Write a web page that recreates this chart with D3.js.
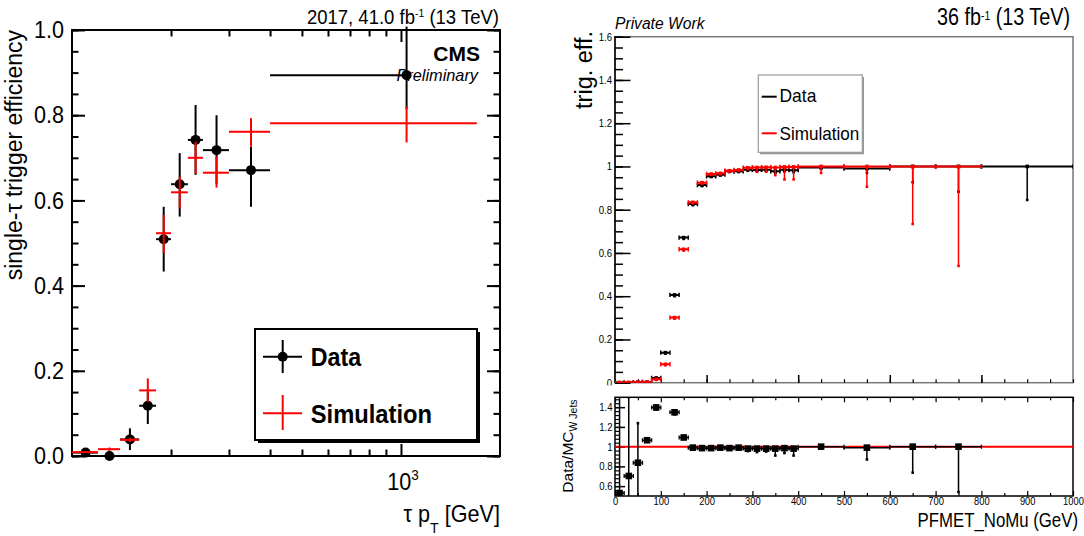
<!DOCTYPE html>
<html><head><meta charset="utf-8">
<script src="https://cdn.jsdelivr.net/npm/d3@7"></script>
<style>body{margin:0;background:#fff}svg{display:block}</style>
</head><body><svg id="c" width="1084" height="536"></svg>
<script>
// ================= LEFT PANEL DATA (single-tau trigger efficiency) =================
const tauBinLo  = [100,120,140,160,180,200,225,250,300,400];
const tauBinHi  = [120,140,160,180,200,225,250,300,400,1700];
const tauX      = [110,130,150,170,190,212.5,237.5,275,350,1040];
const dataXHi   = [120,140,160,180,200,225,250,300,400,1040];
const dataEff   = [0.008,0.000,0.039,0.118,0.509,0.638,0.742,0.718,0.671,0.894];
const dataErrLo = [0.006,0.000,0.025,0.043,0.076,0.076,0.082,0.080,0.086,0.080];
const dataErrHi = [0.006,0.005,0.026,0.033,0.076,0.073,0.082,0.082,0.055,0.114];
const simEff    = [0.009,0.016,0.038,0.154,0.523,0.619,0.700,0.665,0.761,0.781];
const simErrLo  = [0.002,0.004,0.005,0.027,0.047,0.038,0.038,0.035,0.035,0.045];
const simErrHi  = [0.002,0.004,0.005,0.028,0.043,0.037,0.038,0.038,0.032,0.039];
const tauYTicks = [0,0.2,0.4,0.6,0.8,1.0];
const tauXMinor = [200,300,400,500,600,700,800,900];
const tauXMajor = [1000];

// ================= RIGHT PANEL DATA (MET trigger efficiency) =================
const metBinLo = [0,20,40,60,80,100,120,140,160,180,200,220,240,260,280,300,320,340,360,380,400,500,600,700,800];
const metBinHi = [20,40,60,80,100,120,140,160,180,200,220,240,260,280,300,320,340,360,380,400,500,600,700,800,1000];
const dataTrig = [0.0005,0.0005,0.002,0.003,0.022,0.139,0.406,0.671,0.826,0.914,0.955,0.962,0.978,0.978,0.985,0.984,0.985,0.978,0.985,0.983,0.995,0.990,1.0,1.0,1.0];
const dataTrigErr = [0.001,0.001,0.001,0.001,0.003,0.005,0.006,0.006,0.005,0.005,0.004,0.004,0.004,0.004,0.005,0.006,0.007,0.008,0.008,0.010,0.006,0.020,0.073,0.117,0.155];
const mcTrig   = [0.0005,0.0005,0.002,0.003,0.016,0.085,0.301,0.617,0.834,0.925,0.965,0.968,0.980,0.984,0.994,0.995,0.996,0.995,0.998,0.998,1.0,1.0,1.0,1.0,null];
const mcTrigErr= [0.001,0.001,0.001,0.001,0.003,0.004,0.005,0.006,0.005,0.004,0.004,0.004,0.004,0.005,0.006,0.020,0.020,0.035,0.058,0.058,0.030,0.094,0.266,0.460,null];

const ratioBinLo = [0,20,40,60,80,120,140,160,180,200,220,240,260,280,300,320,340,360,380,400,500,600,700];
const ratioBinHi = [20,40,60,80,100,140,160,180,200,220,240,260,280,300,320,340,360,380,400,500,600,700,800];
const ratio      = [0.53,0.703,0.837,1.065,1.397,1.348,1.093,0.99,0.985,0.985,0.99,0.985,0.99,0.98,0.98,0.98,0.98,0.985,0.98,1.0,0.99,1.0,1.0];
const ratioErrLo = [0.6,0.6,0.42,0.015,0.02,0.02,0.015,0.01,0.01,0.01,0.01,0.01,0.01,0.025,0.035,0.03,0.07,0.05,0.07,0.01,0.12,0.263,0.46];
const ratioErrHi = [1.5,0.8,0.401,0.015,0.02,0.02,0.015,0.01,0.01,0.01,0.01,0.01,0.01,0.01,0.01,0.01,0.01,0.01,0.01,0.01,0.01,0.0,0.0];
const effTicks   = [0,0.2,0.4,0.6,0.8,1.0,1.2,1.4,1.6];
const ratioTicks = [0.6,0.8,1.0,1.2,1.4];
const metLabels  = [0,100,200,300,400,500,600,700,800,900,1000];

// ================= helpers =================
const F = '"Liberation Sans", Arial, Helvetica, sans-serif';
const svg = d3.select("#c");
svg.append("rect").attr("width",1084).attr("height",536).attr("fill","#fff");

function txt(g, x, y, size, o = {}) {
  return g.append("text")
    .attr("transform", `translate(${x},${y})` + (o.rot ? ` rotate(${o.rot})` : "") + ` scale(${o.sx || 1},1)`)
    .attr("font-family", F).attr("font-size", size)
    .attr("text-anchor", o.anchor || "start")
    .attr("font-weight", o.weight || "normal")
    .attr("font-style", o.style || "normal")
    .attr("fill", o.fill || "#000");
}
function addAxis(g, gen, tx, ty, o) {
  const ax = gen.tickValues(o.vals).tickSize(o.size).tickPadding(o.pad ?? 3).tickFormat(o.fmt || (() => ""));
  const a = g.append("g").attr("transform", `translate(${tx},${ty})`).call(ax);
  a.select(".domain").remove();
  a.selectAll(".tick line").attr("stroke", o.color || "#000").attr("stroke-width", o.sw || 1);
  a.selectAll("text").attr("font-size", o.font || 11).attr("font-family", F).attr("fill", "#000");
  const sx = o.sx || 1;
  if (sx !== 1) a.selectAll("text").each(function () {
    const t = d3.select(this); const x = +t.attr("x") || 0;
    t.attr("x", x / sx).attr("transform", `scale(${sx},1)`);
  });
  return a;
}
function line(g, x1, y1, x2, y2, color, w) {
  g.append("line").attr("x1", x1).attr("y1", y1).attr("x2", x2).attr("y2", y2)
    .attr("stroke", color).attr("stroke-width", w);
}

// ================= LEFT PANEL =================
const xL = d3.scaleLog().domain([100, 2000]).range([72, 500]);
const yL = d3.scaleLinear().domain([0, 1]).range([456, 30]);
const gL = svg.append("g");

addAxis(gL, d3.axisLeft(yL), 72, 0, {vals: d3.range(0, 1.0001, 0.05), size: -6.5, sw: 2});
addAxis(gL, d3.axisRight(yL), 500, 0, {vals: d3.range(0, 1.0001, 0.05), size: -6.5, sw: 2});
addAxis(gL, d3.axisLeft(yL), 72, 0, {vals: tauYTicks, size: -13, sw: 2, pad: 8, font: 24, sx: 0.9, fmt: d3.format(".1f")});
addAxis(gL, d3.axisRight(yL), 500, 0, {vals: tauYTicks, size: -13, sw: 2});
addAxis(gL, d3.axisBottom(xL), 0, 456, {vals: tauXMinor, size: -6.5, sw: 2});
addAxis(gL, d3.axisBottom(xL), 0, 456, {vals: tauXMajor, size: -12, sw: 2});
addAxis(gL, d3.axisTop(xL), 0, 30, {vals: tauXMinor, size: -6.5, sw: 2});
addAxis(gL, d3.axisTop(xL), 0, 30, {vals: tauXMajor, size: -12, sw: 2});
gL.append("rect").attr("x", 72).attr("y", 30).attr("width", 428).attr("height", 426)
  .attr("fill", "none").attr("stroke", "#000").attr("stroke-width", 2);

// 10^3 label
{
  const t = txt(gL, xL(1000) + 2, 490, 24, {anchor: "middle", sx: 0.9});
  t.append("tspan").text("10");
  t.append("tspan").attr("font-size", 15).attr("dy", -10).text("3");
}
// axis titles
{
  const t = txt(gL, 500, 521.5, 23, {anchor: "end", sx: 0.94});
  t.append("tspan").text("τ p");
  t.append("tspan").attr("font-size", 15).attr("dy", 11).text("T");
  t.append("tspan").attr("dy", -11).text(" [GeV]");
}
txt(gL, 22, 30, 23, {rot: -90, anchor: "end"}).text("single-τ trigger efficiency");
{
  const t = txt(gL, 499, 24, 19.5, {anchor: "end", sx: 0.95});
  t.append("tspan").text("2017, 41.0 fb");
  t.append("tspan").attr("font-size", 11).attr("dy", -7).text("-1");
  t.append("tspan").attr("dy", 7).text(" (13 TeV)");
}
txt(gL, 480, 61, 21, {anchor: "end", weight: "bold"}).text("CMS");
txt(gL, 478, 81, 17, {anchor: "end", style: "italic", sx: 0.96}).text("Preliminary");

// data error bars
tauX.forEach((x, i) => {
  const y = dataEff[i];
  line(gL, xL(tauBinLo[i]), yL(y), xL(dataXHi[i]), yL(y), "#000", 2);
  if (dataErrLo[i] + dataErrHi[i] > 0) line(gL, xL(x), yL(y - dataErrLo[i]), xL(x), yL(y + dataErrHi[i]), "#000", 2);
});
gL.selectAll("circle.dat").data(tauX).join("circle").attr("class", "dat")
  .attr("cx", d => xL(d)).attr("cy", (d, i) => yL(dataEff[i])).attr("r", 5).attr("fill", "#000");
// simulation crosses
tauX.forEach((x, i) => {
  const y = simEff[i];
  line(gL, xL(tauBinLo[i]), yL(y), xL(tauBinHi[i]), yL(y), "#ff0000", 2);
  line(gL, xL(x), yL(y - simErrLo[i]), xL(x), yL(y + simErrHi[i]), "#ff0000", 2);
});

// legend
{
  const lg = gL.append("g");
  lg.append("rect").attr("x", 258).attr("y", 332).attr("width", 222).attr("height", 111).attr("fill", "#000");
  lg.append("rect").attr("x", 255).attr("y", 329).attr("width", 222).attr("height", 111)
    .attr("fill", "#fff").attr("stroke", "#000").attr("stroke-width", 2);
  line(lg, 263, 356.7, 302, 356.7, "#000", 2);
  line(lg, 282.7, 340, 282.7, 373, "#000", 2);
  lg.append("circle").attr("cx", 282.7).attr("cy", 356.7).attr("r", 5).attr("fill", "#000");
  txt(lg, 310.7, 366, 25, {weight: "bold", sx: 0.93}).text("Data");
  line(lg, 263, 413.3, 302, 413.3, "#ff0000", 2);
  line(lg, 282.7, 395, 282.7, 430, "#ff0000", 2);
  txt(lg, 310.7, 422.7, 25, {weight: "bold", sx: 0.95}).text("Simulation");
}

// ================= RIGHT PANEL =================
const xR = d3.scaleLinear().domain([0, 1000]).range([615, 1073]);
const yU = d3.scaleLinear().domain([0, 1.6]).range([382.7, 36.7]);
const yR = d3.scaleLinear().domain([0.5, 1.5]).range([496, 397.3]);
const gR = svg.append("g");
const defs = svg.append("defs");
defs.append("clipPath").attr("id", "clipU").append("rect").attr("x", 615).attr("y", 36.7).attr("width", 458).attr("height", 346);
defs.append("clipPath").attr("id", "clipR").append("rect").attr("x", 615).attr("y", 397.3).attr("width", 458).attr("height", 98.7);

// upper frame
gR.append("rect").attr("x", 615).attr("y", 36.7).attr("width", 458).attr("height", 346)
  .attr("fill", "none").attr("stroke", "#777").attr("stroke-width", 1.5);
line(gR, 615, 36, 615, 383, "#000", 1.5);
addAxis(gR, d3.axisLeft(yU), 615, 0, {vals: d3.range(0, 1.6001, 0.05), size: -8, sw: 1.5});
addAxis(gR, d3.axisLeft(yU), 615, 0, {vals: effTicks, size: -15.5, sw: 1.5, pad: 3, font: 11, sx: 0.87,
  fmt: d => String(+d.toFixed(1))});
addAxis(gR, d3.axisBottom(xR), 0, 382.7, {vals: d3.range(0, 1000.1, 50), size: -3.5, sw: 1.2});
addAxis(gR, d3.axisBottom(xR), 0, 382.7, {vals: [200, 400, 600, 800], size: -7.7, sw: 1.5});

// upper points
function drawUpper(g, vals, errs, color) {
  vals.forEach((y, i) => {
    if (y === null) return;
    const x0 = xR(metBinLo[i]), x1 = xR(metBinHi[i]), xc = (x0 + x1) / 2, py = yU(y);
    line(g, x0, py, x1, py, color, 2);
    line(g, x0, py - 2.2, x0, py + 2.2, color, 1.5);
    line(g, x1, py - 2.2, x1, py + 2.2, color, 1.5);
    const lo = y - errs[i], hi = Math.min(1, y + errs[i]);
    line(g, xc, yU(lo), xc, yU(hi), color, 1.5);
    g.append("rect").attr("x", xc - 1.3).attr("y", yU(lo) - 1.3).attr("width", 2.6).attr("height", 2.6).attr("fill", color);
    g.append("rect").attr("x", xc - 1.8).attr("y", py - 1.8).attr("width", 3.6).attr("height", 3.6).attr("fill", color);
  });
}
const gUp = gR.append("g").attr("clip-path", "url(#clipU)");
drawUpper(gUp, dataTrig, dataTrigErr, "#000");
drawUpper(gUp, mcTrig, mcTrigErr, "#ff0000");

// texts upper
txt(gR, 592, 31, 23.5, {rot: -90, anchor: "end"}).text("trig. eff.");
txt(gR, 615, 29, 17, {style: "italic", sx: 0.92}).text("Private Work");
{
  const t = txt(gR, 1070, 25, 23, {anchor: "end", sx: 0.86});
  t.append("tspan").text("36 fb");
  t.append("tspan").attr("font-size", 12).attr("dy", -5).text("-1");
  t.append("tspan").attr("dy", 5).text(" (13 TeV)");
}
// legend right
{
  const lg = gR.append("g");
  lg.append("rect").attr("x", 760).attr("y", 77).attr("width", 104).attr("height", 77.3).attr("fill", "#999");
  lg.append("rect").attr("x", 758.3).attr("y", 75).attr("width", 104).attr("height", 77.3)
    .attr("fill", "#fff").attr("stroke", "#999").attr("stroke-width", 1.2);
  line(lg, 761.7, 96.7, 776.7, 96.7, "#000", 2);
  txt(lg, 779.5, 102.3, 18, {sx: 0.97}).text("Data");
  line(lg, 761.7, 133.3, 776.7, 133.3, "#ff0000", 2);
  txt(lg, 779.5, 140, 18, {sx: 0.95}).text("Simulation");
}

// lower pad background
gR.append("rect").attr("x", 560).attr("y", 385.5).attr("width", 524).attr("height", 150.5).attr("fill", "#fff");

// lower frame & axes
addAxis(gR, d3.axisLeft(yR), 615, 0, {vals: d3.range(0.52, 1.5, 0.04), size: -5, sw: 1.2});
addAxis(gR, d3.axisLeft(yR), 615, 0, {vals: ratioTicks, size: -10, sw: 1.5, pad: 2.5, font: 11, sx: 0.87,
  fmt: d => String(+d.toFixed(1))});
addAxis(gR, d3.axisBottom(xR), 0, 496, {vals: d3.range(50, 1000, 100), size: -3, sw: 1.2});
addAxis(gR, d3.axisBottom(xR), 0, 496, {vals: metLabels, size: -5, sw: 1.2, pad: 1, font: 11, sx: 0.85, fmt: d => String(d)});
addAxis(gR, d3.axisTop(xR), 0, 397.3, {vals: d3.range(50, 1000, 100), size: -3, sw: 1.2});
addAxis(gR, d3.axisTop(xR), 0, 397.3, {vals: metLabels, size: -5, sw: 1.2});
gR.append("rect").attr("x", 615).attr("y", 397.3).attr("width", 458).attr("height", 98.7)
  .attr("fill", "none").attr("stroke", "#000").attr("stroke-width", 1.5);

// ratio line and points
const gLo = gR.append("g").attr("clip-path", "url(#clipR)");
line(gLo, xR(0), yR(1), xR(1000), yR(1), "#ff0000", 2);
ratio.forEach((r, i) => {
  const x0 = xR(ratioBinLo[i]), x1 = xR(ratioBinHi[i]), xc = (x0 + x1) / 2, py = yR(r);
  line(gLo, x0, py, x1, py, "#000", 1.5);
  line(gLo, x0, py - 2, x0, py + 2, "#000", 1.3);
  line(gLo, x1, py - 2, x1, py + 2, "#000", 1.3);
  const lo = r - ratioErrLo[i], hi = r + ratioErrHi[i];
  line(gLo, xc, yR(lo), xc, yR(hi), "#000", 1.5);
  gLo.append("rect").attr("x", xc - 1.3).attr("y", yR(lo) - 1.3).attr("width", 2.6).attr("height", 2.6).attr("fill", "#000");
  gLo.append("rect").attr("x", xc - 1.3).attr("y", yR(hi) - 1.3).attr("width", 2.6).attr("height", 2.6).attr("fill", "#000");
  gLo.append("rect").attr("x", xc - 3.3).attr("y", py - 3.3).attr("width", 6.6).attr("height", 6.6).attr("fill", "#000");
});

// lower titles
{
  const t = txt(gR, 573, 446, 15.5, {rot: -90, anchor: "middle"});
  t.append("tspan").text("Data/MC");
  t.append("tspan").attr("font-size", 10.5).attr("dy", 4).text("W Jets");
}
txt(gR, 1078, 526.7, 21, {anchor: "end", sx: 0.8}).text("PFMET_NoMu (GeV)");
</script></body></html>
